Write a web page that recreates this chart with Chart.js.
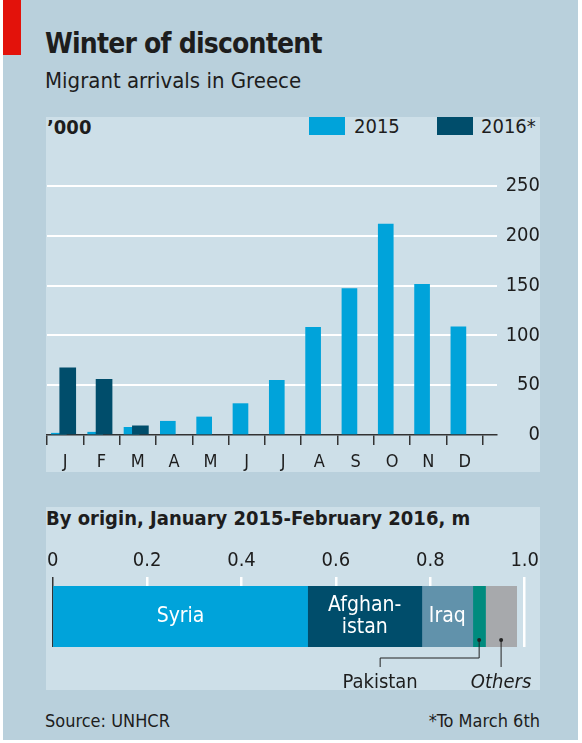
<!DOCTYPE html>
<html>
<head>
<meta charset="utf-8">
<script src="https://cdn.jsdelivr.net/npm/chart.js@4.4.1/dist/chart.umd.min.js"></script>
<style>
  html, body { margin: 0; padding: 0; background: #fff; }
  body { width: 582px; height: 743px; position: relative; overflow: hidden;
         font-family: 'DejaVu Sans Condensed', 'DejaVu Sans', sans-serif; color: #1d1d1d; }
  #frame { position: absolute; left: 3px; top: 0; width: 575px; height: 740px; background: #b9d0dc; }
  #flag { position: absolute; left: 3px; top: 0; width: 18px; height: 55px; background: #e3120b; }
  .txt { position: absolute; white-space: nowrap; }
  #title { left: 45px; top: 30px; font-size: 28px; line-height: 28px; font-weight: bold; letter-spacing: -0.8px; }
  #subtitle { left: 45px; top: 70px; font-size: 22px; line-height: 22px; }
  .panel { position: absolute; left: 46px; width: 494px; background: #cddfe8; }
  #top { top: 117px; height: 355px; }
  #bottom { top: 507px; height: 183px; }
  #unit { left: 47px; top: 117px; font-size: 20px; line-height: 20px; font-weight: bold; }
  .key { position: absolute; top: 117px; height: 18px; }
  .keylab { top: 116px; font-size: 20px; line-height: 20px; }
  #origin { left: 46px; top: 508px; font-size: 20px; line-height: 20px; font-weight: bold; }
  #source { left: 45px; top: 712px; font-size: 18px; line-height: 18px; }
  #note { right: 42px; top: 712px; font-size: 18px; line-height: 18px; }
  canvas { position: absolute; }
</style>
</head>
<body>
<div id="frame"></div>
<div id="flag"></div>
<div class="txt" id="title">Winter of discontent</div>
<div class="txt" id="subtitle">Migrant arrivals in Greece</div>

<div class="panel" id="top"></div>
<div class="txt" id="unit">’000</div>
<div class="key" style="left:309px;width:36px;background:#00a3da"></div>
<div class="txt keylab" style="left:354px">2015</div>
<div class="key" style="left:437px;width:36px;background:#004d6b"></div>
<div class="txt keylab" style="left:481px">2016*</div>
<canvas id="monthly" width="500" height="355" style="left:40px;top:117px;width:500px;height:355px"></canvas>

<div class="panel" id="bottom"></div>
<div class="txt" id="origin">By origin, January 2015-February 2016, m</div>
<canvas id="origins" width="500" height="153" style="left:43px;top:537px;width:500px;height:153px"></canvas>

<div class="txt" id="source">Source: UNHCR</div>
<div class="txt" id="note">*To March 6th</div>

<script>
// arrivals per month, thousands
const months = ['J', 'F', 'M', 'A', 'M', 'J', 'J', 'A', 'S', 'O', 'N', 'D'];
const arrivals2015 = [1.8, 2.8, 7.7, 13.8, 18.1, 31.5, 55, 108, 147, 211.7, 151.3, 108.7];
const arrivals2016 = [67.4, 56, 9.2];
const arrivalTicks = [0, 50, 100, 150, 200, 250];

// totals by country of origin, millions
const origins = ['Syria', 'Afghanistan', 'Iraq', 'Pakistan', 'Others'];
const originTotals = [0.540, 0.242, 0.108, 0.027, 0.066];
const originTicks = [0, 0.2, 0.4, 0.6, 0.8, 1.0];

const FONT = "'DejaVu Sans Condensed', 'DejaVu Sans', sans-serif";
const INK = '#1d1d1d';
const BLUE = '#00a3da';
const NAVY = '#004d6b';
const originColours = ['#00a3da', '#004d6b', '#6192ab', '#008b7e', '#a7a9ac'];

Chart.defaults.font.family = FONT;
Chart.defaults.color = INK;
Chart.defaults.animation = false;

// bars sit at fixed spots inside each month slot on a 0..12 linear axis
const OFF_2015 = 0.327;
const OFF_2016 = 0.571;

new Chart(document.getElementById('monthly'), {
  type: 'bar',
  data: {
    datasets: [
      {
        label: '2015',
        data: arrivals2015.map((v, i) => ({ x: i + OFF_2015, y: v })),
        backgroundColor: BLUE,
        barThickness: 15,
        grouped: false,
        order: 1
      },
      {
        label: '2016*',
        data: arrivals2016.map((v, i) => ({ x: i + OFF_2016, y: v })),
        backgroundColor: NAVY,
        barThickness: 16,
        grouped: false,
        order: 0
      }
    ]
  },
  options: {
    responsive: false,
    // the x tick padding (7) already keeps the plot 7px off the left edge
    layout: { padding: { left: 0, top: 69, right: 0, bottom: 0 } },
    plugins: { legend: { display: false }, tooltip: { enabled: false } },
    scales: {
      x: {
        type: 'linear',
        offset: false,
        min: 0,
        max: 12.39,
        afterBuildTicks: s => {
          const t = [];
          for (let i = 0; i <= 24; i++) t.push({ value: i / 2 });
          s.ticks = t;
        },
        afterFit: s => { s.height = 37; },
        border: { display: true, color: '#333', width: 1.5 },
        grid: {
          drawOnChartArea: false,
          offset: false,
          tickLength: 10,
          color: '#333',
          lineWidth: c => (c.tick && Number.isInteger(c.tick.value) ? 1.5 : 0)
        },
        ticks: {
          autoSkip: false,
          maxRotation: 0,
          padding: 7,
          font: { size: 18 },
          callback: v => (Number.isInteger(v) ? '' : months[Math.floor(v)])
        }
      },
      y: {
        position: 'right',
        min: 0,
        max: 250,
        afterBuildTicks: s => { s.ticks = arrivalTicks.map(v => ({ value: v })); },
        afterFit: s => { s.width = 43; },
        border: { display: false },
        grid: {
          drawTicks: false,
          color: c => (c.tick && c.tick.value === 0 ? 'rgba(0,0,0,0)' : '#ffffff'),
          lineWidth: 2
        },
        ticks: { crossAlign: 'far', padding: 6, font: { size: 20 } }
      }
    }
  }
});

// text inside the stacked bar and the two pointer labels underneath
const originLabels = {
  id: 'originLabels',
  afterDatasetsDraw(chart) {
    const ctx = chart.ctx;
    const bars = chart.data.datasets.map((d, i) => chart.getDatasetMeta(i).data[0]);
    const mid = b => (b.x + b.base) / 2;
    ctx.save();
    ctx.textAlign = 'center';
    ctx.textBaseline = 'middle';
    ctx.fillStyle = '#ffffff';
    ctx.font = '21px ' + FONT;
    const cy = bars[0].y;
    ctx.fillText('Syria', mid(bars[0]), cy);
    ctx.fillText('Afghan-', mid(bars[1]), cy - 11);
    ctx.fillText('istan', mid(bars[1]), cy + 11);
    ctx.fillText('Iraq', mid(bars[2]), cy);

    const bottom = bars[0].y + bars[0].height / 2;
    const dotY = bottom - 7;
    const elbowY = bottom + 11;
    const endY = bottom + 20;
    const textY = bottom + 36;
    const pk = mid(bars[3]);
    const ot = mid(bars[4]);
    const pkText = pk - 99;

    ctx.strokeStyle = '#222';
    ctx.fillStyle = '#222';
    ctx.lineWidth = 1;
    ctx.beginPath();
    ctx.moveTo(pk, dotY);
    ctx.lineTo(pk, elbowY);
    ctx.lineTo(pkText, elbowY);
    ctx.lineTo(pkText, endY);
    ctx.moveTo(ot, dotY);
    ctx.lineTo(ot, endY);
    ctx.stroke();
    [pk, ot].forEach(x => {
      ctx.beginPath();
      ctx.arc(x, dotY, 2, 0, Math.PI * 2);
      ctx.fill();
    });

    ctx.fillStyle = INK;
    ctx.font = '20px ' + FONT;
    ctx.fillText('Pakistan', pkText, textY);
    ctx.font = 'italic 20px ' + FONT;
    ctx.fillText('Others', ot, textY);
    ctx.restore();
  }
};

new Chart(document.getElementById('origins'), {
  type: 'bar',
  data: {
    labels: ['origin'],
    datasets: origins.map((name, i) => ({
      label: name,
      data: [originTotals[i]],
      backgroundColor: originColours[i],
      barPercentage: 1,
      categoryPercentage: 1
    }))
  },
  options: {
    indexAxis: 'y',
    responsive: false,
    layout: { padding: { left: 9, right: 18, top: 0, bottom: 43 } },
    plugins: { legend: { display: false }, tooltip: { enabled: false } },
    scales: {
      x: {
        position: 'top',
        stacked: true,
        min: 0,
        max: 1,
        afterBuildTicks: s => { s.ticks = originTicks.map(v => ({ value: v })); },
        afterFit: s => { s.height = 49; },
        border: { display: false },
        grid: {
          tickLength: 9,
          color: c => (c.tick && c.tick.value === 0 ? '#333' : '#ffffff'),
          lineWidth: c => (c.tick && c.tick.value === 0 ? 1.5 : 2.5)
        },
        ticks: {
          padding: 4,
          font: { size: 20 },
          callback: v => (v === 0 ? '0' : v.toFixed(1))
        }
      },
      y: { stacked: true, display: false }
    }
  },
  plugins: [originLabels]
});
</script>
</body>
</html>
